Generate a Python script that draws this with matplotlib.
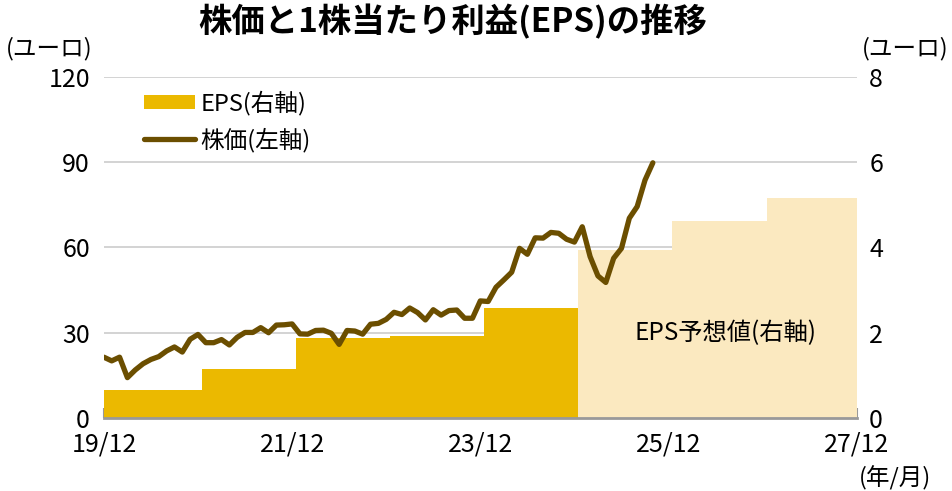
import numpy as np
import matplotlib.pyplot as plt

plt.rcParams['font.family'] = ['Noto Sans CJK JP', 'DejaVu Sans']

# Monthly share price (left axis, euro), months counted from 2019/12
price = [21.4, 20.1, 21.4, 14.2, 16.9, 19.1, 20.6, 21.6, 23.6, 25.0,
         23.2, 27.7, 29.4, 26.5, 26.5, 27.6, 25.7, 28.4, 30.1, 30.1,
         31.8, 30.0, 32.7, 32.8, 33.1, 29.6, 29.5, 30.8, 30.9, 29.8,
         25.9, 30.8, 30.6, 29.5, 33.0, 33.3, 34.7, 37.2, 36.4, 38.7,
         37.1, 34.5, 38.1, 36.2, 37.8, 38.0, 35.1, 35.1, 41.2, 41.0,
         46.0, 48.6, 51.3, 59.7, 57.6, 63.4, 63.3, 65.3, 65.0, 62.9,
         61.9, 67.3, 56.8, 50.0, 47.7, 56.2, 59.7, 70.3, 74.4, 83.7,
         89.8]
months = np.arange(len(price))

# EPS per fiscal year (right axis, euro): actual then forecast
eps_edges = [0, 12.5, 24.5, 36.5, 48.5, 60.5, 72.5, 84.5, 96]
eps_actual = [0.66, 1.15, 1.88, 1.92, 2.57]
eps_forecast = [3.94, 4.62, 5.16]

xticks = [0, 24, 48, 72, 96]
xlabels = ['19/12', '21/12', '23/12', '25/12', '27/12']

c_bar = '#ebb900'
c_fc = '#fbe9c0'
c_line = '#6b4e00'

fig = plt.figure(figsize=(9.53, 4.91), dpi=100)
ax = fig.add_axes([0.109, 0.1487, 0.790, 0.6945])

# bars on the EPS axis (right side)
lefts = np.array(eps_edges[:-1])
widths = np.diff(eps_edges)
n = len(eps_actual)
ax.bar(lefts[:n], eps_actual, width=widths[:n], align='edge', color=c_bar,
       zorder=2, label='EPS(右軸)')
ax.bar(lefts[n:], eps_forecast, width=widths[n:], align='edge', color=c_fc,
       zorder=2)
ax.set_ylim(0, 8)
ax.set_yticks([0, 2, 4, 6, 8])
ax.grid(axis='y', color='#cccccc', linewidth=1.2, zorder=0)
ax.set_axisbelow(True)

# price line on left axis
ax2 = ax.twinx()
ax2.plot(months, price, color=c_line, linewidth=3.8, solid_capstyle='round',
         solid_joinstyle='round', label='株価(左軸)')
ax2.set_ylim(0, 120)
ax2.set_yticks([0, 30, 60, 90, 120])
ax2.yaxis.tick_left()
ax.yaxis.tick_right()

ax.set_xlim(0, 96)
ax.set_xticks(xticks)
ax.set_xticklabels(xlabels)

for a in (ax, ax2):
    for s in a.spines.values():
        s.set_visible(False)
ax2.tick_params(axis='y', length=0, labelsize=18, pad=10)
ax.tick_params(axis='y', length=0, labelsize=18, pad=9)
ax.spines['bottom'].set_visible(True)
ax.spines['bottom'].set_color('#999999')
ax.spines['bottom'].set_linewidth(2)
ax.tick_params(axis='x', direction='in', length=7, width=1.5, color='#999999',
               labelsize=18, pad=10)

fig.text(0.475, 0.955, '株価と1株当たり利益(EPS)の推移', ha='center', va='center',
         fontsize=24, fontweight='bold')
fig.text(0.052, 0.902, '(ユーロ)', ha='center', va='center', fontsize=17)
fig.text(0.950, 0.902, '(ユーロ)', ha='center', va='center', fontsize=17)
fig.text(0.939, 0.026, '(年/月)', ha='center', va='center', fontsize=17)
ax.text(79.3, 2.0, 'EPS予想値(右軸)', ha='center', va='center', fontsize=17.5)

h1, l1 = ax.get_legend_handles_labels()
h2, l2 = ax2.get_legend_handles_labels()
ax2.legend(h1 + h2, l1 + l2, loc='upper left', bbox_to_anchor=(0.053, 0.96),
           frameon=False, fontsize=17, handlelength=2.15, handleheight=0.5,
           labelspacing=0.5, handletextpad=0.25, borderaxespad=0,
           borderpad=0)

fig.savefig('out.png', dpi=100)
